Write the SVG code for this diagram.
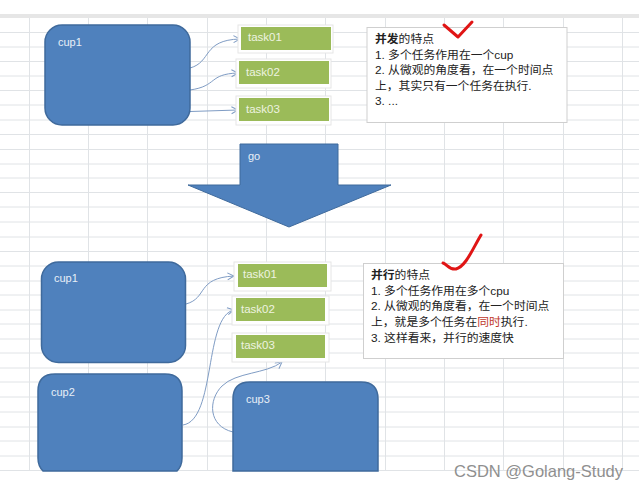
<svg xmlns="http://www.w3.org/2000/svg" width="639" height="491" viewBox="0 0 639 491">
<style>
.bg{fill:#fff}
.grid{stroke:#e0e3e6;stroke-width:1;fill:none}
.hdr{fill:#e6e6e6}
.cpu{fill:#4f81bd;stroke:#3f6a9c;stroke-width:1.5}
.shadow{fill:#fff;stroke:#e6e6e6;stroke-width:1}
.task{fill:#9bbb59}
.lt{font-family:"Liberation Sans",Arial,sans-serif;font-size:11px;fill:#e8eff7}
.tt{font-family:"Liberation Sans",Arial,sans-serif;font-size:11.5px;fill:#eef3e0}
.note{fill:#fff;stroke:#cfcfcf;stroke-width:1}
.nt{font-family:"Liberation Sans","Noto Sans CJK SC",sans-serif;font-size:11.8px;fill:#222}
.b{font-weight:bold}
.conn{fill:none;stroke:#7f9cc4;stroke-width:1}
.tick{fill:none;stroke:#e01515;stroke-width:3;stroke-linecap:round;stroke-linejoin:round}
</style>
<defs><marker id="ah" markerWidth="9" markerHeight="9" refX="7.5" refY="4" orient="auto" markerUnits="userSpaceOnUse"><path d="M1 0.5L7.500 4L1 7.500" fill="none" stroke="#7f9cc4" stroke-width="1"/></marker></defs>
<rect class="bg" width="639" height="491"/>
<rect class="hdr" y="14" width="639" height="4"/>
<g id="grid">
<path class="grid" d="M0 32.500H639M0 47H639M0 61.500H639M0 76H639M0 90.500H639M0 105H639M0 120H639M0 134.500H639M0 149.500H639M0 164H639M0 178H639M0 192.500H639M0 207H639M0 222H639M0 237H639M0 251.500H639M0 266H639M0 281H639M0 295H639M0 310H639M0 324H639M0 339H639M0 353H639M0 368H639M0 382H639M0 397H639M0 412H639M0 427H639M0 441H639M0 456H639M0 470.500H639"/>
<path class="grid" d="M29.500 18V471M88.500 18V471M147.500 18V471M207.500 18V471M266.500 18V471M325.500 18V471M385.500 18V471M444.500 18V471M503.500 18V471M563.500 18V471M622.500 18V471"/>
</g>
<g id="connectors">
<path class="conn" marker-end="url(#ah)" d="M190 68C212 62 202 40 240 39"/>
<path class="conn" marker-end="url(#ah)" d="M190 90C218 86 208 74 238 73"/>
<path class="conn" marker-end="url(#ah)" d="M190 111.500L238 110"/>
<path class="conn" marker-end="url(#ah)" d="M186 304C208 298 196 278 234 276"/>
<path class="conn" marker-end="url(#ah)" d="M183 425C216 420 204 316 234 310"/>
<path class="conn" marker-end="url(#ah)" d="M233 432C208 426 208 400 222 386C236 372 266 374 282 362"/>
</g>
<g id="cup1a"><rect class="cpu" x="45" y="25" width="145" height="100" rx="17"/><text class="lt" x="58" y="46">cup1</text></g>
<g id="cup1b"><rect class="cpu" x="41.500" y="262" width="144" height="100.500" rx="17"/><text class="lt" x="54" y="282">cup1</text></g>
<g id="cup2"><path class="cpu" d="M55 374H165Q182 374 182 391V458Q182 466 177 471H43Q38 466 38 458V391Q38 374 55 374Z"/><text class="lt" x="51" y="396">cup2</text></g>
<g id="cup3"><path class="cpu" d="M250 382H361Q378 382 378 399V471H233V399Q233 382 250 382Z"/><text class="lt" x="246" y="403">cup3</text></g>
<g id="task01a"><rect class="shadow" x="238" y="25" width="95" height="28"/><rect class="task" x="241" y="27" width="90" height="23"/><text class="tt" x="248" y="41">task01</text></g>
<g id="task02a"><rect class="shadow" x="236" y="59" width="95" height="29"/><rect class="task" x="239" y="61" width="90" height="23"/><text class="tt" x="246" y="76">task02</text></g>
<g id="task03a"><rect class="shadow" x="236" y="96" width="95" height="29"/><rect class="task" x="239" y="98" width="90" height="23"/><text class="tt" x="246" y="113">task03</text></g>
<g id="task01b"><rect class="shadow" x="234" y="262" width="97" height="29"/><rect class="task" x="238" y="264" width="89" height="23"/><text class="tt" x="243" y="278">task01</text></g>
<g id="task02b"><rect class="shadow" x="232" y="296" width="97" height="29"/><rect class="task" x="236" y="298" width="89" height="23"/><text class="tt" x="241" y="313">task02</text></g>
<g id="task03b"><rect class="shadow" x="232" y="333" width="97" height="29"/><rect class="task" x="236" y="335" width="89" height="23"/><text class="tt" x="241" y="349">task03</text></g>
<g id="go"><path fill="#4f81bd" stroke="#3f6a9c" d="M240 144H338V185H391L289 227L188 185H240Z"/><text class="lt" x="248" y="160">go</text></g>
<g id="note1"><rect class="note" x="367" y="27.500" width="200" height="95"/>
<text class="nt" x="375" y="43"><tspan class="b">并发</tspan>的特点</text>
<text class="nt" x="375" y="59">1. 多个任务作用在一个cup</text>
<text class="nt" x="375" y="74">2. 从微观的角度看，在一个时间点</text>
<text class="nt" x="375" y="90">上，其实只有一个任务在执行.</text>
<text class="nt" x="375" y="105">3. ...</text></g>
<g id="note2"><rect class="note" x="363.500" y="263.500" width="200" height="95"/>
<text class="nt" x="371" y="279"><tspan class="b">并行</tspan>的特点</text>
<text class="nt" x="371" y="295">1. 多个任务作用在多个cpu</text>
<text class="nt" x="371" y="310">2. 从微观的角度看，在一个时间点</text>
<text class="nt" x="371" y="326">上，就是多个任务在<tspan fill="#c0392b">同时</tspan>执行.</text>
<text class="nt" x="371" y="342">3. 这样看来，并行的速度快</text></g>
<path class="tick" d="M444 25L458 37L472 22"/>
<path class="tick" d="M443 263C447 264 449 270 456 269C466 266 472 250 481 235"/>
<text x="454" y="477" font-family="'Liberation Sans',sans-serif" font-size="16.500" fill="#8f8f8f">CSDN @Golang-Study</text>
</svg>
